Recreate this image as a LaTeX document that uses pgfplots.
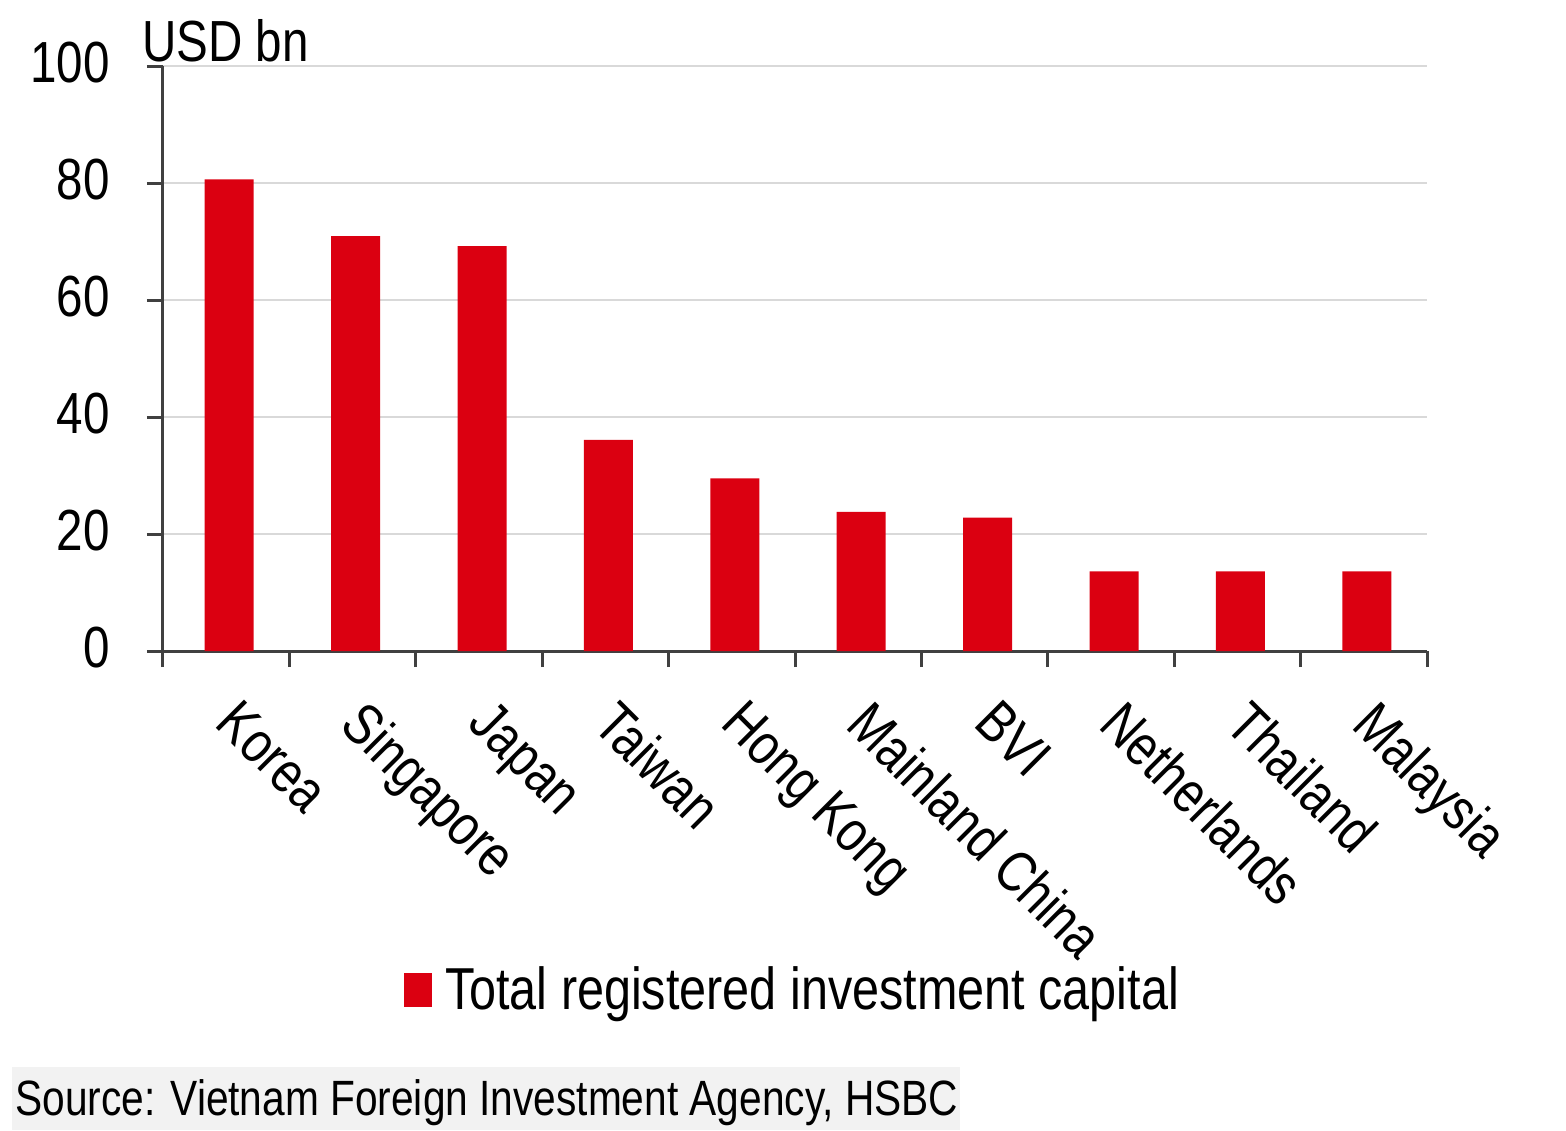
\documentclass[border=0pt]{standalone}
\usepackage{fontspec}
\setmainfont[FakeStretch=0.82]{Liberation Sans}
\usepackage{pgfplots}
\pgfplotsset{compat=1.18}
\definecolor{hsbcred}{RGB}{219,0,17}
\definecolor{axisgray}{RGB}{64,64,64}
\definecolor{gridgray}{RGB}{217,217,217}
\definecolor{srcgray}{RGB}{242,242,242}
\newcommand\bigf{\fontsize{29}{34}\selectfont}
\begin{document}
\begin{tikzpicture}
\useasboundingbox (-81.5pt,-239.5pt) rectangle (701.5pt,325.5pt);
\fill[srcgray] (-75.5pt,-208pt) rectangle (398.5pt,-239.5pt);
\node[anchor=base west, inner sep=0pt, font=\fontsize{24.8}{29}\selectfont] at (-74pt,-232pt) {Source: Vietnam Foreign Investment Agency, HSBC};
\begin{axis}[
  at={(0pt,0pt)}, anchor=south west,
  scale only axis, width=632pt, height=292.5pt,
  xmin=-0.5, xmax=9.5, ymin=0, ymax=100,
  ytick={0,20,40,60,80,100},
  xtick={0,...,9},
  xticklabels={Korea,Singapore,Japan,Taiwan,Hong Kong,Mainland China,BVI,Netherlands,Thailand,Malaysia},
  minor xtick={-0.5,0.5,...,9.5},
  major x tick style={draw=none},
  axis lines*=left,
  tick align=outside,
  major tick length=8pt, minor tick length=8pt,
  ymajorgrids,
  grid style={color=gridgray, line width=1.2pt},
  axis line style={color=axisgray, line width=1.5pt},
  tick style={color=axisgray, line width=1.5pt},
  /pgf/number format/assume math mode=true,
  yticklabel style={font=\bigf, inner sep=0pt, anchor=east, xshift=-18.5pt, yshift=1.5pt},
  xticklabel style={font=\bigf, inner sep=0pt, xshift=8pt, yshift=-15pt, rotate=-45, anchor=north west},
  ybar, bar width=24.5pt, bar shift=1.5pt,
  legend style={at={(0.1907,-0.5795)}, anchor=west, draw=none, fill=none, inner sep=0pt, outer sep=0pt, font=\fontsize{29.6}{34}\selectfont, nodes={inner sep=0pt}},
  legend image code/.code={\fill[hsbcred] (0pt,-8.5pt) rectangle (14pt,8.5pt); \path (20.5pt,0pt);},
]
\addplot[fill=hsbcred, draw=none] coordinates {(0,80.6) (1,70.9) (2,69.2) (3,36.1) (4,29.5) (5,23.8) (6,22.8) (7,13.6) (8,13.6) (9,13.6)};
\addlegendentry{Total registered investment capital}
\end{axis}
\node[anchor=base west, inner sep=0pt, font=\bigf] at (-10.5pt,294.5pt) {USD bn};
\end{tikzpicture}
\end{document}
